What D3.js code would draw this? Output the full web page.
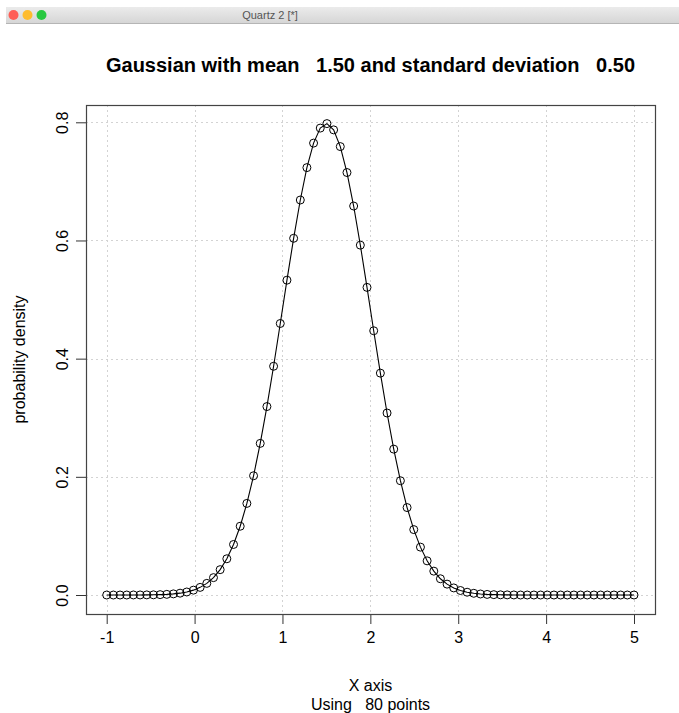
<!DOCTYPE html>
<html>
<head>
<meta charset="utf-8">
<script src="https://cdn.jsdelivr.net/npm/d3@7"></script>
<style>
	body { margin: 0; background: #fff; }
	svg { display: block; font-family: "Liberation Sans", Arial, sans-serif; }
</style>
</head>
<body>
<div id="chart"></div>
<script>
// x positions of the 80 points (-1 to 5)
const xValues = [
	-1.000, -0.924, -0.848, -0.772, -0.696, -0.620, -0.544, -0.468, -0.392, -0.316,
	-0.241, -0.165, -0.089, -0.013, 0.063, 0.139, 0.215, 0.291, 0.367, 0.443,
	0.519, 0.595, 0.671, 0.747, 0.823, 0.899, 0.975, 1.051, 1.127, 1.203,
	1.278, 1.354, 1.430, 1.506, 1.582, 1.658, 1.734, 1.810, 1.886, 1.962,
	2.038, 2.114, 2.190, 2.266, 2.342, 2.418, 2.494, 2.570, 2.646, 2.722,
	2.797, 2.873, 2.949, 3.025, 3.101, 3.177, 3.253, 3.329, 3.405, 3.481,
	3.557, 3.633, 3.709, 3.785, 3.861, 3.937, 4.013, 4.089, 4.165, 4.241,
	4.316, 4.392, 4.468, 4.544, 4.620, 4.696, 4.772, 4.848, 4.924, 5.000
];

// density at each point
const densityValues = [
	0.0000, 0.0000, 0.0000, 0.0000, 0.0001, 0.0001, 0.0002, 0.0003, 0.0006, 0.0011,
	0.0019, 0.0031, 0.0051, 0.0082, 0.0129, 0.0197, 0.0294, 0.0429, 0.0613, 0.0855,
	0.1164, 0.1550, 0.2018, 0.2566, 0.3189, 0.3871, 0.4595, 0.5328, 0.6037, 0.6685,
	0.7233, 0.7648, 0.7902, 0.7978, 0.7872, 0.7589, 0.7150, 0.6583, 0.5921, 0.5206,
	0.4472, 0.3755, 0.3080, 0.2469, 0.1934, 0.1480, 0.1107, 0.0810, 0.0578, 0.0404,
	0.0275, 0.0184, 0.0120, 0.0076, 0.0047, 0.0029, 0.0017, 0.0010, 0.0006, 0.0003,
	0.0002, 0.0001, 0.0000, 0.0000, 0.0000, 0.0000, 0.0000, 0.0000, 0.0000, 0.0000,
	0.0000, 0.0000, 0.0000, 0.0000, 0.0000, 0.0000, 0.0000, 0.0000, 0.0000, 0.0000
];

const xTicks = [-1, 0, 1, 2, 3, 4, 5];
const yTicks = [0, 0.2, 0.4, 0.6, 0.8];

const titleText = 'Gaussian with mean   1.50 and standard deviation   0.50';
const xLabel = 'X axis';
const subLabel = 'Using   80 points';
const yLabel = 'probability density';
const windowTitle = 'Quartz 2 [*]';

const width = 679, height = 713;
const box = { left: 86, right: 655, top: 105, bottom: 614 };

const data = xValues.map((x, i) => ({ x: x, y: densityValues[i] }));

const svg = d3.select('#chart')
	.append('svg')
	.attr('width', width)
	.attr('height', height);

// ----------------------------------
// window title bar
// ----------------------------------

const grad = svg.append('defs').append('linearGradient')
	.attr('id', 'barGrad')
	.attr('x1', 0).attr('x2', 0).attr('y1', 0).attr('y2', 1);
grad.append('stop').attr('offset', '0%').attr('stop-color', '#ebebeb');
grad.append('stop').attr('offset', '100%').attr('stop-color', '#d6d6d6');

svg.append('rect')
	.attr('x', 6).attr('y', 7)
	.attr('width', width - 6).attr('height', 16)
	.attr('fill', 'url(#barGrad)');
svg.append('line')
	.attr('x1', 6).attr('x2', width)
	.attr('y1', 23.5).attr('y2', 23.5)
	.attr('stroke', '#b5b5b5');

svg.selectAll('circle.btn')
	.data(['#fe5f57', '#febc2e', '#28c840'])
	.enter()
	.append('circle')
	.attr('class', 'btn')
	.attr('cx', (d, i) => 13.5 + i * 14)
	.attr('cy', 15)
	.attr('r', 5)
	.attr('fill', d => d);

svg.append('text')
	.attr('x', 270).attr('y', 19)
	.attr('text-anchor', 'middle')
	.style('font-size', '11px')
	.style('fill', '#555')
	.text(windowTitle);

// ----------------------------------
// scales and axes
// ----------------------------------

const x = d3.scaleLinear()
	.domain([-1, 5])
	.range([106.7, 634]);

const y = d3.scaleLinear()
	.domain([0, 0.8])
	.range([595, 122.3]);

// grid
const grid = svg.append('g')
	.attr('stroke', '#d3d3d3')
	.attr('stroke-dasharray', '2,3')
	.attr('stroke-width', 1);

grid.selectAll('line.vx')
	.data(xTicks)
	.enter()
	.append('line')
	.attr('x1', d => Math.round(x(d)) + 0.5).attr('x2', d => Math.round(x(d)) + 0.5)
	.attr('y1', box.top).attr('y2', box.bottom);

grid.selectAll('line.hy')
	.data(yTicks)
	.enter()
	.append('line')
	.attr('y1', d => Math.round(y(d)) + 0.5).attr('y2', d => Math.round(y(d)) + 0.5)
	.attr('x1', box.left).attr('x2', box.right);

const xAxis = d3.axisBottom(x)
	.tickValues(xTicks)
	.tickSize(10)
	.tickPadding(8)
	.tickFormat(d => String(d));

const yAxis = d3.axisLeft(y)
	.tickValues(yTicks)
	.tickSize(10)
	.tickFormat(d3.format('.1f'));

const gx = svg.append('g')
	.attr('transform', `translate(0,${box.bottom})`)
	.call(xAxis);
gx.select('.domain').remove();
gx.selectAll('line').attr('stroke', '#333');
gx.selectAll('text')
	.style('font-size', '16px')
	.attr('fill', '#000');

const gy = svg.append('g')
	.attr('transform', `translate(${box.left},0)`)
	.call(yAxis);
gy.select('.domain').remove();
gy.selectAll('line').attr('stroke', '#333');
gy.selectAll('text')
	.style('font-size', '16px')
	.attr('fill', '#000')
	.attr('text-anchor', 'middle')
	.attr('x', null)
	.attr('transform', 'translate(-24,0) rotate(-90)')
	.attr('y', 0)
	.attr('dy', '0.35em');

// plot box
svg.append('rect')
	.attr('x', box.left + 0.5).attr('y', box.top + 0.5)
	.attr('width', box.right - box.left).attr('height', box.bottom - box.top)
	.attr('fill', 'none')
	.attr('stroke', '#444')
	.attr('stroke-width', 1.2);

// ----------------------------------
// the data
// ----------------------------------

const line = d3.line()
	.x(d => x(d.x))
	.y(d => y(d.y));

svg.append('path')
	.datum(data)
	.attr('d', line)
	.attr('fill', 'none')
	.attr('stroke', '#000')
	.attr('stroke-width', 1.1);

svg.append('g')
	.selectAll('circle')
	.data(data)
	.enter()
	.append('circle')
	.attr('cx', d => x(d.x))
	.attr('cy', d => y(d.y))
	.attr('r', 4)
	.attr('fill', 'none')
	.attr('stroke', '#000')
	.attr('stroke-width', 1);

// ----------------------------------
// labels
// ----------------------------------

svg.append('text')
	.attr('x', (box.left + box.right) / 2)
	.attr('y', 72)
	.attr('text-anchor', 'middle')
	.style('font-size', '20px')
	.style('font-weight', 'bold')
	.style('white-space', 'pre')
	.text(titleText);

svg.append('text')
	.attr('x', (box.left + box.right) / 2)
	.attr('y', 691)
	.attr('text-anchor', 'middle')
	.style('font-size', '16px')
	.text(xLabel);

svg.append('text')
	.attr('x', (box.left + box.right) / 2)
	.attr('y', 710)
	.attr('text-anchor', 'middle')
	.style('font-size', '16px')
	.style('white-space', 'pre')
	.text(subLabel);

svg.append('text')
	.attr('transform', `translate(25,${(box.top + box.bottom) / 2}) rotate(-90)`)
	.attr('text-anchor', 'middle')
	.style('font-size', '16px')
	.text(yLabel);
</script>
</body>
</html>
